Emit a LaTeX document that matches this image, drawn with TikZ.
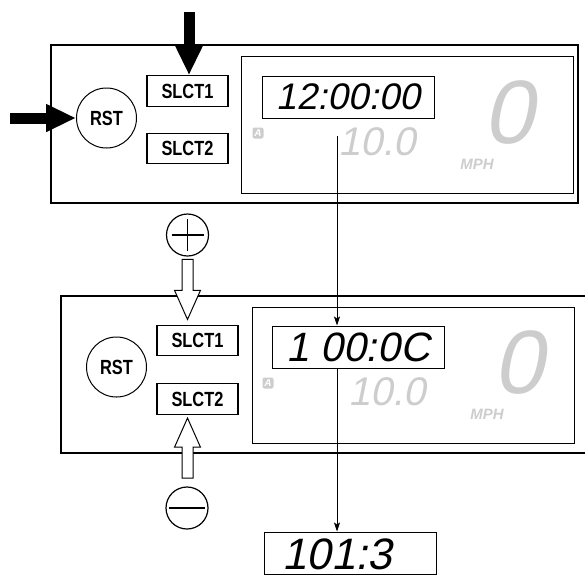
\documentclass[tikz,border=0pt]{standalone}
\usepackage{fontspec}
\setmainfont{Liberation Sans}
\newfontfamily\keyfont[FakeStretch=0.8]{Liberation Sans}
\newfontfamily\lcdfont[FakeSlant=0.2]{Liberation Sans}
\usetikzlibrary{arrows.meta,shapes.arrows}
\definecolor{lcdgray}{HTML}{CDCDCD}
\tikzset{
  every picture/.style={
    line join=miter,
    >=Stealth,
  },
  panel/.style={draw, line width=1.2pt},
  screen/.style={draw, line width=1pt},
  keybox/.style={draw, line width=1.1pt, minimum width=81pt, minimum height=30.5pt,
    inner sep=0pt, font=\keyfont\bfseries\fontsize{20.5}{20.5}\selectfont},
  rstbtn/.style={draw, circle, line width=1pt, minimum size=60pt, inner sep=0pt,
    font=\keyfont\bfseries\fontsize{20.5}{20.5}\selectfont},
  timebox/.style={draw, line width=1pt, minimum width=172pt, minimum height=42pt, inner sep=0pt},
  lcd/.style={font=\lcdfont\fontsize{#1}{#1}\selectfont, inner sep=0pt},
  ghost/.style={lcd=#1, text=lcdgray},
  badge/.style={fill=lcdgray, rounded corners=2pt, minimum size=11pt, inner sep=0pt,
    text=white, font=\bfseries\itshape\fontsize{10}{10}\selectfont},
  unit/.style={inner sep=0pt, text=lcdgray, font=\bfseries\itshape\fontsize{15}{15}\selectfont},
  signbtn/.style={draw, circle, line width=1.2pt, minimum size=42pt, inner sep=0pt},
  pushed/.style={line width=11pt, -{Triangle[length=30pt,width=26pt]}},
  % the shaft width comes from inner sep, the head from head extend
  hollow/.style={single arrow, draw, fill=white, line width=1pt, inner sep=5pt,
    minimum height=60pt, minimum width=25pt,
    single arrow head extend=7.5pt, single arrow tip angle=48},
  link/.style={line width=0.9pt, -{Stealth[length=9pt,width=6pt,inset=2pt]}},
}
\begin{document}
\begin{tikzpicture}[x=1pt,y=-1pt]
\useasboundingbox (0,0) rectangle (585,574);
\clip (0,0) rectangle (585,574);
% upper panel: clock display as it comes up
\draw[panel] (51,45) rectangle (578,203);
\draw[screen] (241,56) rectangle (573,193);
\node[rstbtn] (rst1) at (106.5,118) {RST};
\node[keybox] (s1a) at (187.5,91) {SLCT1};
\node[keybox] (s2a) at (187.5,148.5) {SLCT2};
\node[timebox,lcd=37] (t1) at (348,97) {12:00:00};
\node[badge] (a1) at (258,133) {A};
\node[ghost=40] (odo1) at (377,142) {10.0};
\node[ghost=90] (spd1) at (509,112.5) {0};
\node[unit] (mph1) at (477,164.5) {MPH};
\coordinate (lin) at (10,118);
\coordinate (tin) at (189,12);
\draw[pushed] (lin) -- (rst1.west);
\draw[pushed] (tin) -- (s1a.north -| tin);
% lower panel: setting the hour
\draw[panel] (590,296) -- (61,296) -- (61,453) -- (590,453);
\draw[screen] (252,307) rectangle (574,443);
\node[rstbtn] (rst2) at (116.5,367) {RST};
\node[keybox] (s1b) at (197.5,340.5) {SLCT1};
\node[keybox] (s2b) at (197.5,399) {SLCT2};
\node[timebox,lcd=41] (t2) at (358,347) {1 00:0C};
\node[badge] (a2) at (268,383) {A};
\node[ghost=40] (odo2) at (387,392) {10.0};
\node[ghost=90] (spd2) at (519,362.5) {0};
\node[unit] (mph2) at (487,414.5) {MPH};
\node[signbtn] (plus) at (187.5,235) {};
\draw[line width=1.3pt] ([xshift=-16pt]plus.center) -- ([xshift=16pt]plus.center)
  ([yshift=-16pt]plus.center) -- ([yshift=16pt]plus.center);
\node[signbtn] (minus) at (187,508) {};
\draw[line width=1.3pt] ([xshift=-18pt]minus.center) -- ([xshift=18pt]minus.center);
\node[hollow, shape border rotate=270, anchor=tip] (dn) at ([yshift=4pt]s1b.north -| plus) {};
\node[hollow, shape border rotate=90, anchor=tip] (up) at ([yshift=-2pt]s2b.south -| plus) {};
% result after stepping
\node[timebox] (t3) at (350,553) {};
\node[lcd=44, anchor=west] (r3) at (282,554) {101:3};
\coordinate (c1) at (337,136);
\draw[link] (c1) -- (c1 |- t2.north);
\draw[link] (c1 |- t2.south) -- (c1 |- t3.north);
\end{tikzpicture}
\end{document}
